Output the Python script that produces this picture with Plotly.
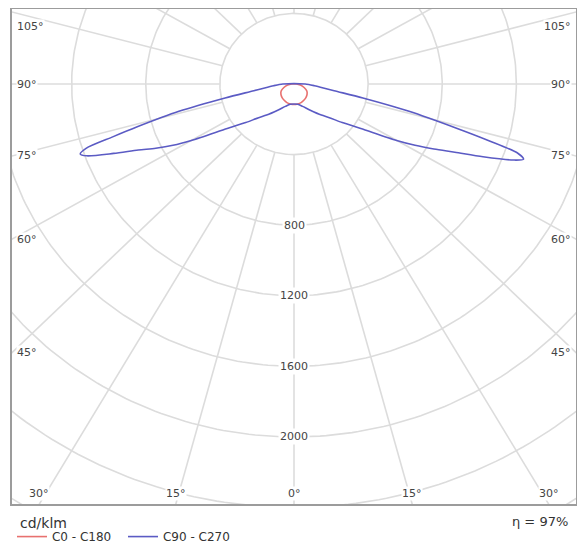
import numpy as np
import plotly.graph_objects as go

# ---------------- data (cd/klm) ----------------
gamma_c90 = [0, 10, 20, 30, 40, 45, 50, 55, 60, 62, 64, 66, 68, 70, 71, 72, 73, 74, 76, 78, 80, 82, 85, 88, 90]
c90 = [113, 117, 135, 170, 230, 270, 340, 440, 640, 740, 840, 950, 1100, 1260, 1310, 1270, 1100, 920, 640, 380, 220, 160, 110, 80, 60]
c270 = [113, 117, 135, 170, 230, 270, 340, 440, 640, 740, 830, 920, 1050, 1190, 1220, 1180, 1020, 880, 640, 380, 220, 160, 110, 80, 60]

gamma_c0 = [0, 10, 20, 30, 40, 50, 60, 70, 80, 90]
c0 = [116, 115, 112, 106, 100, 92, 80, 58, 35, 12]
c180 = [116, 115, 112, 106, 100, 92, 80, 58, 35, 12]

ring_values = [400, 800, 1200, 1600, 2000, 2400, 2800]
ring_labels = [800, 1200, 1600, 2000]
ray_angles = list(range(0, 360, 15))
side_label_angles = [45, 60, 75, 90, 105]
bottom_label_angles = [0, 15, 30]
efficiency = "η = 97%"
unit = "cd/klm"

# ---------------- layout constants ----------------
# (the page body adds an 8px margin on every side, so the figure is 16px smaller)
W, H = 569, 535
ML, MR, MT, MB = 4, 1, 1, 39
YT, YB = 425.0, -2380.0
PLOT_W = W - ML - MR
PLOT_H = H - MT - MB
cd_per_px = (YT - YB) / PLOT_H
XR = (PLOT_W / 2) * cd_per_px / 1.05

GRID = "#dcdcdc"
TXT = "#444444"
FONT = "DejaVu Sans"


def plane(gam, left_vals, right_vals):
    g = np.radians(np.array(gam, dtype=float))
    L = np.array(left_vals, dtype=float)
    R = np.array(right_vals, dtype=float)
    xl = -L * np.sin(g)
    yl = -L * np.cos(g)
    xr = R * np.sin(g)
    yr = -R * np.cos(g)
    x = np.concatenate([xl[::-1], xr[1:], [xl[-1]]])
    y = np.concatenate([yl[::-1], yr[1:], [yl[-1]]])
    return x, y


fig = go.Figure()

# grid: rings
gx, gy = [], []
t = np.linspace(0, 2 * np.pi, 361)
for r in ring_values:
    gx += list(r * np.sin(t)) + [None]
    gy += list(-r * np.cos(t)) + [None]
# grid: rays (start at inner ring)
for a in ray_angles:
    ar = np.radians(a)
    gx += [ring_values[0] * np.sin(ar), 6000 * np.sin(ar), None]
    gy += [-ring_values[0] * np.cos(ar), -6000 * np.cos(ar), None]
fig.add_trace(go.Scatter(x=gx, y=gy, mode="lines", line=dict(color=GRID, width=1.6),
                         hoverinfo="skip", showlegend=False))

x0, y0 = plane(gamma_c0, c180, c0)
fig.add_trace(go.Scatter(x=x0, y=y0, mode="lines", name="C0 - C180",
                         line=dict(color="#e8716f", width=1.6, shape="spline", smoothing=0.8)))
x9, y9 = plane(gamma_c90, c270, c90)
fig.add_trace(go.Scatter(x=x9, y=y9, mode="lines", name="C90 - C270",
                         line=dict(color="#5b5bc4", width=1.6, shape="spline", smoothing=0.8)))

ann = []
for r in ring_labels:
    ann.append(dict(x=0, y=-r, text=str(r), showarrow=False, bgcolor="white",
                    font=dict(size=11, color=TXT, family=FONT), borderpad=1))

lab_font = dict(size=11, color=TXT, family=FONT)
ymax_label = YT - 17 * cd_per_px
for a in side_label_angles:
    ar = np.radians(a)
    yi = -np.cos(ar) * XR / np.sin(ar)
    yi = min(yi, ymax_label)
    ann.append(dict(x=-XR, y=yi, text=f"{a}°", showarrow=False, xanchor="left", xshift=4,
                    bgcolor="white", font=lab_font, borderpad=0))
    ann.append(dict(x=XR, y=yi, text=f"{a}°", showarrow=False, xanchor="right", xshift=-4,
                    bgcolor="white", font=lab_font, borderpad=0))
for a in bottom_label_angles:
    ar = np.radians(a)
    xi = np.sin(ar) * (-YB) / np.cos(ar)
    xs = [0.0] if a == 0 else [-xi, xi]
    for xx in xs:
        ann.append(dict(x=xx, y=YB, text=f"{a}°", showarrow=False, yanchor="bottom", yshift=3,
                        bgcolor="white", font=lab_font, borderpad=0))

ann.append(dict(xref="paper", yref="paper", x=0.010, y=-0.038, xanchor="left", yanchor="middle",
                text=unit, showarrow=False, font=dict(size=14, color="#333333", family=FONT)))
ann.append(dict(xref="paper", yref="paper", x=0.99, y=-0.036, xanchor="right", yanchor="middle",
                text=efficiency, showarrow=False, font=dict(size=13, color="#333333", family=FONT)))

fig.update_layout(
    width=W, height=H,
    margin=dict(l=ML, r=MR, t=MT, b=MB, autoexpand=False),
    paper_bgcolor="white", plot_bgcolor="white",
    xaxis=dict(range=[-XR, XR], showgrid=False, zeroline=False, showticklabels=False,
               showline=True, mirror=True, linecolor="#9c9c9c", linewidth=2, ticks="",
               automargin=False),
    yaxis=dict(range=[YB, YT], showgrid=False, zeroline=False, showticklabels=False,
               showline=True, mirror=True, linecolor="#9c9c9c", linewidth=2, ticks="",
               automargin=False),
    showlegend=True,
    legend=dict(orientation="h", xref="container", yref="container",
                x=0.007, xanchor="left", y=0.012, yanchor="middle",
                font=dict(size=12, color="#333333", family=FONT), bgcolor="rgba(0,0,0,0)",
                itemwidth=30, entrywidth=66, entrywidthmode="pixels", tracegroupgap=0),
    annotations=ann,
    hovermode=False,
)

fig.write_html("out.html")
